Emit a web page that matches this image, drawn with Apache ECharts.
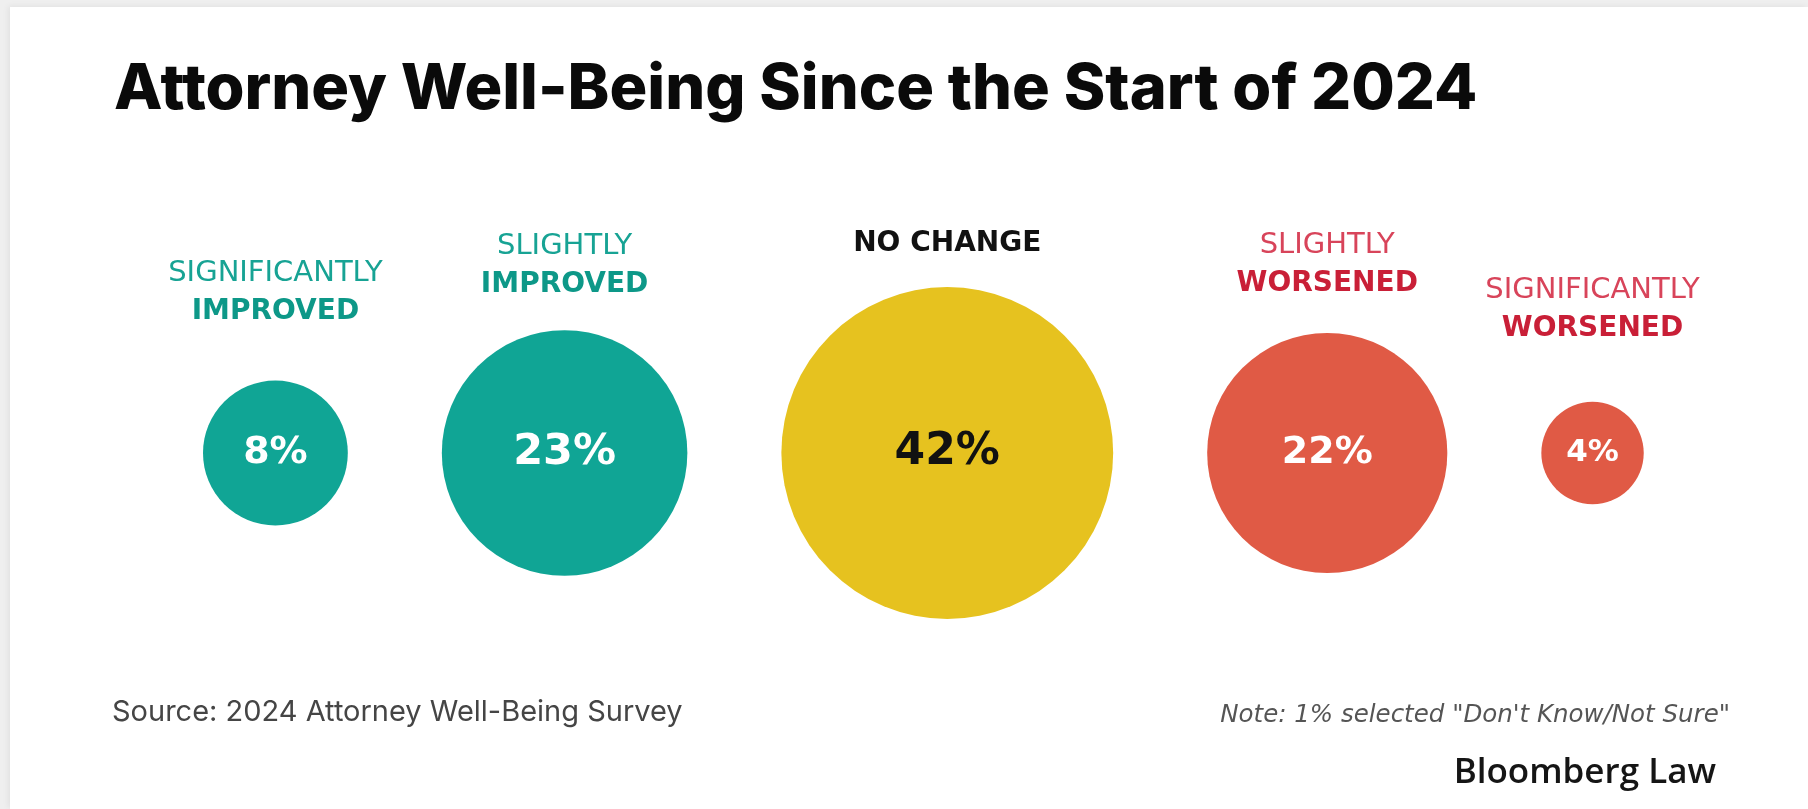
<!DOCTYPE html>
<html>
<head>
<meta charset="utf-8">
<script src="https://cdn.jsdelivr.net/npm/echarts@6/dist/echarts.min.js"></script>
<style>
  html, body { margin: 0; padding: 0; width: 1808px; height: 809px; background: #efefef; overflow: hidden; }
  #card { position: absolute; left: 10px; top: 7px; right: 0; bottom: 0; background: #fff; box-shadow: -2px -1px 6px rgba(0,0,0,0.06); }
  #chart { position: absolute; left: 0; top: 0; width: 1808px; height: 809px; }
</style>
</head>
<body>
<div id="card"></div>
<div id="chart"></div>
<script>
// ---- content ----
const titleText = 'Attorney Well-Being Since the Start of 2024';
const labelTop = ['SIGNIFICANTLY', 'SLIGHTLY', '', 'SLIGHTLY', 'SIGNIFICANTLY'];
const labelMain = ['IMPROVED', 'IMPROVED', 'NO CHANGE', 'WORSENED', 'WORSENED'];
const shares = [8, 23, 42, 22, 4];
const sourceText = 'Source: 2024 Attorney Well-Being Survey';
const noteText = 'Note: 1% selected "Don\'t Know/Not Sure"';
const brandText = 'Bloomberg Law';

// ---- per-bubble styling ----
const fills = ['#10a595', '#10a595', '#e6c21f', '#e05a45', '#e05a45'];
const valueInk = ['#ffffff', '#ffffff', '#111111', '#ffffff', '#ffffff'];
const valueSize = [38, 43, 44, 38, 31];
const toneTop = ['#17a394', '#17a394', '#111111', '#d8445a', '#d8445a'];
const toneMain = ['#0d9888', '#0d9888', '#111111', '#c91f37', '#c91f37'];
const labelGap = [50, 27, 24, 30, 54];

// bubble area is proportional to the share
const RADIUS_PER_ROOT = 25.6;
const GAP = 94;
const ROW_LEFT = 203;
const radius = v => RADIUS_PER_ROOT * Math.sqrt(v);

// pack the bubbles left to right with an even gap between their edges
const centers = [];
let cursor = 0;
shares.forEach(v => {
  const r = radius(v);
  cursor += r;
  centers.push(cursor);
  cursor += r + GAP;
});
const span = cursor - GAP;

const labelFont = '"DejaVu Sans", sans-serif';
const rich = {};
shares.forEach((v, i) => {
  rich['t' + i] = { fontFamily: labelFont, fontSize: 29, color: toneTop[i], lineHeight: 38 };
  rich['m' + i] = { fontFamily: labelFont, fontSize: 28, fontWeight: 'bold', color: toneMain[i], lineHeight: 38 };
});

const points = shares.map((v, i) => [centers[i], 0, v]);

const chart = echarts.init(document.getElementById('chart'), null, { renderer: 'canvas' });
chart.setOption({
  animation: false,
  grid: { left: ROW_LEFT, width: span, top: 353, height: 200 },
  xAxis: { type: 'value', min: 0, max: span, show: false },
  yAxis: { type: 'value', min: -1, max: 1, show: false },
  series: [
    {
      name: 'share',
      type: 'scatter',
      silent: true,
      symbol: 'circle',
      symbolSize: val => 2 * radius(val[2]),
      data: points.map((p, i) => ({
        value: p,
        itemStyle: { color: fills[i], opacity: 1 },
        label: { color: valueInk[i], fontSize: valueSize[i] }
      })),
      label: {
        show: true,
        position: 'inside',
        fontFamily: labelFont,
        fontWeight: 'bold',
        formatter: p => p.value[2] + '%'
      }
    },
    {
      name: 'category',
      type: 'scatter',
      silent: true,
      symbol: 'circle',
      symbolSize: val => 2 * radius(val[2]),
      itemStyle: { color: 'rgba(0,0,0,0)', opacity: 1 },
      z: 3,
      data: points.map((p, i) => ({
        value: p,
        label: { distance: labelGap[i] }
      })),
      label: {
        show: true,
        position: 'top',
        align: 'center',
        rich: rich,
        formatter: p => {
          const i = p.dataIndex;
          return (labelTop[i] ? '{t' + i + '|' + labelTop[i] + '}\n' : '') + '{m' + i + '|' + labelMain[i] + '}';
        }
      }
    }
  ],
  graphic: [
    {
      type: 'text', left: 114, top: 59,
      style: { text: titleText, font: '800 63px Inter, sans-serif', fill: '#0a0a0a' }
    },
    {
      type: 'text', left: 112, top: 698,
      style: { text: sourceText, font: '29px Inter, sans-serif', fill: '#454545' }
    },
    {
      type: 'text', right: 78, top: 703,
      style: { text: noteText, font: 'italic 24.5px "DejaVu Sans", sans-serif', fill: '#555555' }
    },
    {
      type: 'text', right: 92, top: 756,
      style: { text: brandText, font: '600 35px "Open Sans", sans-serif', fill: '#151515' }
    }
  ]
});
</script>
</body>
</html>
